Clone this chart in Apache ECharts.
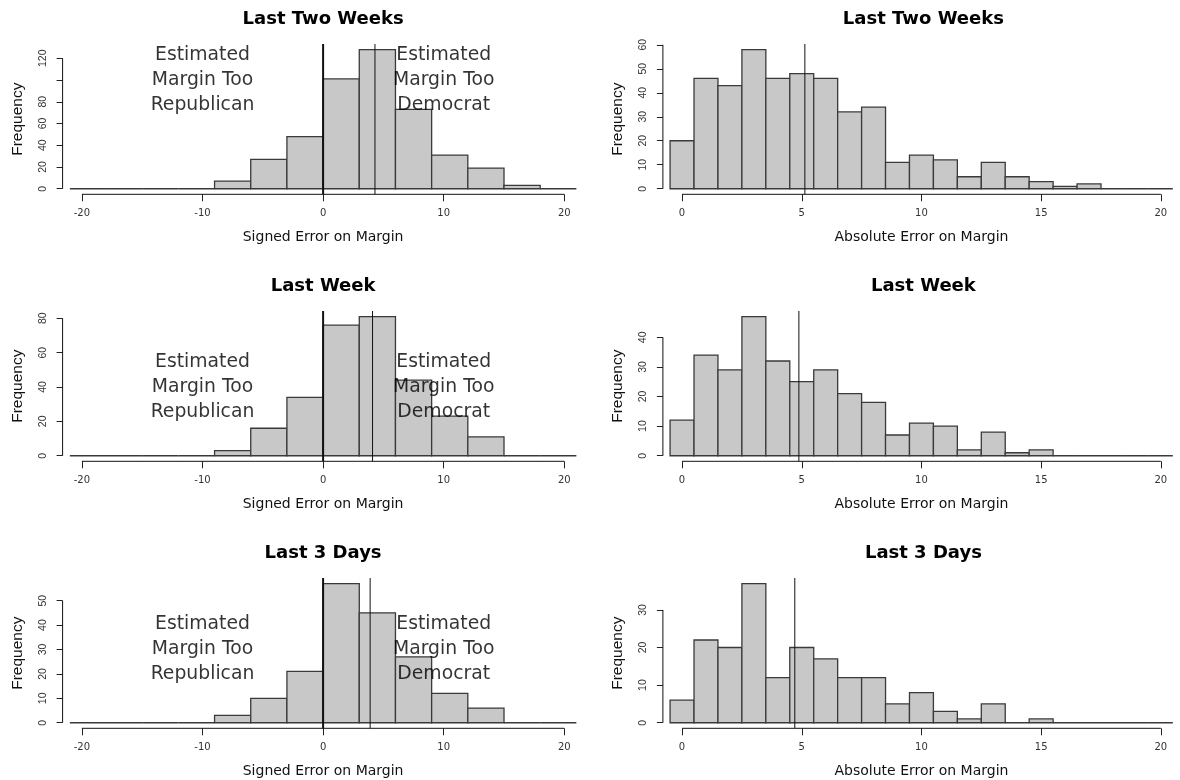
<!DOCTYPE html>
<html><head><meta charset="utf-8">
<script src="https://cdn.jsdelivr.net/npm/echarts@6/dist/echarts.min.js"></script>
<style>html,body{margin:0;padding:0;background:#fff}#chart{width:1180px;height:780px}</style>
</head><body><div id="chart"></div>
<script>
// ---------------- data ----------------
const panelTitles = ['Last Two Weeks', 'Last Week', 'Last 3 Days'];
const signedLabel = 'Signed Error on Margin';
const absoluteLabel = 'Absolute Error on Margin';
const yLabel = 'Frequency';

const signedBreaks = [-21, -18, -15, -12, -9, -6, -3, 0, 3, 6, 9, 12, 15, 18, 21];
const absoluteBreaks = [-0.5, 0.5, 1.5, 2.5, 3.5, 4.5, 5.5, 6.5, 7.5, 8.5, 9.5, 10.5,
  11.5, 12.5, 13.5, 14.5, 15.5, 16.5, 17.5, 18.5, 19.5, 20.5];

const signedTwoWeeks = [0, 0, 0, 0, 7, 27, 48, 101, 128, 73, 31, 19, 3, 0];
const signedLastWeek = [0, 0, 0, 0, 3, 16, 34, 76, 81, 44, 23, 11, 0, 0];
const signedLast3Days = [0, 0, 0, 0, 3, 10, 21, 57, 45, 27, 12, 6, 0, 0];

const absoluteTwoWeeks = [20, 46, 43, 58, 46, 48, 46, 32, 34, 11, 14, 12, 5, 11, 5, 3, 1, 2, 0, 0, 0];
const absoluteLastWeek = [12, 34, 29, 47, 32, 25, 29, 21, 18, 7, 11, 10, 2, 8, 1, 2, 0, 0, 0, 0, 0];
const absoluteLast3Days = [6, 22, 20, 37, 12, 20, 17, 12, 12, 5, 8, 3, 1, 5, 0, 1, 0, 0, 0, 0, 0];

const signedMeans = [4.3, 4.1, 3.9];
const absoluteMeans = [5.13, 4.88, 4.71];

const signedXTicks = [-20, -10, 0, 10, 20];
const absoluteXTicks = [0, 5, 10, 15, 20];
const signedYTicks = [[0, 20, 40, 60, 80, 100, 120], [0, 20, 40, 60, 80], [0, 10, 20, 30, 40, 50]];
const signedYLabels = [[0, 20, 40, 60, 80, 120], [0, 20, 40, 60, 80], [0, 10, 20, 30, 40, 50]];
const absoluteYTicks = [[0, 10, 20, 30, 40, 50, 60], [0, 10, 20, 30, 40], [0, 10, 20, 30]];

const annotLeft = 'Estimated\nMargin Too\nRepublican';
const annotRight = 'Estimated\nMargin Too\nDemocrat';
const annotX = [-10, 10];
const annotY = [100, 40, 30];

// ---------------- layout ----------------
const rowTop = [44, 311, 578];
const plotH = 150.3;
const colLeft = [62.6, 662.9];
const plotW = 521;
const FONT = 'DejaVu Sans';
const FILL = '#c8c8c8';
const EDGE = '#3a3a3a';

const signedCounts = [signedTwoWeeks, signedLastWeek, signedLast3Days];
const absoluteCounts = [absoluteTwoWeeks, absoluteLastWeek, absoluteLast3Days];

const option = { animation: false, backgroundColor: '#fff', title: [], grid: [], xAxis: [], yAxis: [], series: [] };

function lineSeries(idx, pts, width, z) {
  return {
    type: 'line', xAxisIndex: idx, yAxisIndex: idx, data: pts, symbol: 'none', silent: true,
    clip: false, z: z, lineStyle: { color: '#111', width: width }
  };
}

let idx = 0;
for (let row = 0; row < 3; row++) {
  for (let col = 0; col < 2; col++) {
    const signed = col === 0;
    const breaks = signed ? signedBreaks : absoluteBreaks;
    const counts = signed ? signedCounts[row] : absoluteCounts[row];
    const xTicks = signed ? signedXTicks : absoluteXTicks;
    const yTicks = signed ? signedYTicks[row] : absoluteYTicks[row];
    const yLabels = signed ? signedYLabels[row] : absoluteYTicks[row];
    const mean = signed ? signedMeans[row] : absoluteMeans[row];
    const xlo = xTicks[0], xhi = xTicks[xTicks.length - 1];
    const xmin = xlo - 0.04 * (xhi - xlo), xmax = xhi + 0.04 * (xhi - xlo);
    const ytop = Math.max(...counts);
    const ymin = -0.04 * ytop, ymax = 1.04 * ytop;

    option.grid.push({ left: colLeft[col], top: rowTop[row], width: plotW, height: plotH, containLabel: false });
    option.title.push({
      text: panelTitles[row], left: colLeft[col] + plotW / 2, top: rowTop[row] - 34, textAlign: 'center', padding: 0,
      textStyle: { fontFamily: FONT, fontWeight: 'bold', fontSize: 18, color: '#000' }
    });
    option.xAxis.push({
      gridIndex: idx, type: 'value', min: xmin, max: xmax, position: 'bottom',
      axisLine: { show: false, onZero: false }, splitLine: { show: false },
      axisTick: { show: true, customValues: xTicks, length: 7, lineStyle: { color: '#222', width: 1 } },
      axisLabel: { customValues: xTicks, fontSize: 10, color: '#333', margin: 14, fontFamily: FONT },
      name: signed ? signedLabel : absoluteLabel, nameLocation: 'middle', nameGap: 36,
      nameTextStyle: { fontSize: 14, color: '#111', fontFamily: FONT }
    });
    option.yAxis.push({
      gridIndex: idx, type: 'value', min: ymin, max: ymax, position: 'left',
      axisLine: { show: false, onZero: false }, splitLine: { show: false },
      axisTick: { show: true, customValues: yTicks, length: 6, lineStyle: { color: '#222', width: 1 } },
      axisLabel: { customValues: yLabels, fontSize: 10.5, color: '#333', margin: 14, rotate: 90, fontFamily: 'Liberation Sans' },
      name: yLabel, nameLocation: 'middle', nameGap: 37, nameRotate: 90,
      nameTextStyle: { fontSize: 15.5, color: '#111', fontFamily: 'Liberation Sans' }
    });

    // histogram bars
    option.series.push({
      type: 'custom', xAxisIndex: idx, yAxisIndex: idx, silent: true, z: 2,
      data: counts.map((c, i) => [breaks[i], breaks[i + 1], c]),
      renderItem: (params, api) => {
        const a = api.coord([api.value(0), 0]);
        const b = api.coord([api.value(1), api.value(2)]);
        return {
          type: 'rect',
          shape: { x: a[0], y: b[1], width: b[0] - a[0], height: a[1] - b[1] },
          style: { fill: FILL, stroke: EDGE, lineWidth: 1.3 }
        };
      }
    });
    // axis lines (R style: first tick to last tick)
    option.series.push(lineSeries(idx, [[xlo, ymin], [xhi, ymin]], 1, 3));
    option.series.push(lineSeries(idx, [[xmin, yTicks[0]], [xmin, yTicks[yTicks.length - 1]]], 1, 3));
    // reference lines
    if (signed) option.series.push(lineSeries(idx, [[0, ymin], [0, ymax]], 2, 4));
    option.series.push(lineSeries(idx, [[mean, ymin], [mean, ymax]], 1, 4));
    // annotations
    if (signed) {
      option.series.push({
        type: 'scatter', xAxisIndex: idx, yAxisIndex: idx, silent: true, z: 5,
        symbolSize: 1, itemStyle: { color: 'rgba(0,0,0,0)' },
        data: [[annotX[0], annotY[row], annotLeft], [annotX[1], annotY[row], annotRight]],
        label: {
          show: true, position: 'inside', formatter: p => p.data[2], align: 'center', verticalAlign: 'middle',
          fontSize: 18.8, lineHeight: 25, color: '#000', fontFamily: FONT
        }
      });
    }
    idx++;
  }
}

const chart = echarts.init(document.getElementById('chart'), null, { renderer: 'canvas' });
chart.setOption(option);
</script>
</body></html>
